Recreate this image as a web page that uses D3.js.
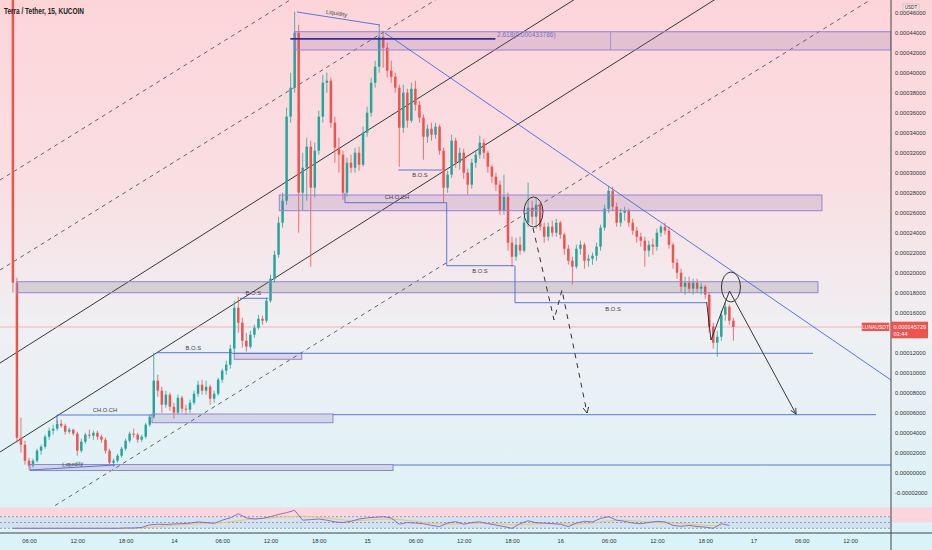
<!DOCTYPE html>
<html>
<head>
<meta charset="utf-8">
<script src="https://cdnjs.cloudflare.com/ajax/libs/d3/7.8.5/d3.min.js"></script>
<style>
  body { margin: 0; background: #fff; overflow: hidden; }
  svg { display: block; font-family: "Liberation Sans", Arial, sans-serif; }
</style>
</head>
<body>
<svg width="932" height="550"></svg>
<script>
// prices are in micro-USDT (1e-6 USDT), times in hours from 13 May 00:00 UTC
const day0 = Date.UTC(2022, 4, 13);
const firstBarHour = 4;     // first 30-minute bar starts at 04:00 on the 13th
const barHours = 0.5;
const firstOpen = 560;
const lastPrice = 145.729;

const closes = [190,35,28,12,7,12,22,26,36,42,44,49,47,41,43,39,22,31,38,37,
  40,36,33,22,10,12,17,24,32,39,38,33,36,48,56,92,82,68,78,66,
  60,75,64,63,70,79,88,82,86,74,79,93,102,108,124,165,150,132,126,138,
  145,154,152,172,194,218,250,272,356,385,440,280,305,326,285,322,356,390,392,350,
  325,318,280,310,305,320,308,340,360,390,406,436,425,402,396,385,345,380,352,384,
  368,355,336,344,338,346,322,285,298,332,310,320,300,288,310,318,330,320,306,296,
  288,262,276,230,216,228,222,250,265,256,268,246,236,246,240,250,238,224,212,206,
  224,228,212,214,217,226,245,264,282,266,250,260,262,250,242,236,232,222,228,226,
  240,246,242,228,210,200,186,190,184,190,184,186,178,146,130,136,158,166,152,145.7];
const highs = [600,195,55,32,15,14,24,28,38,45,48,52,53,49,45,44,41,34,40,43,
  42,42,38,35,24,14,19,26,34,41,44,40,38,50,58,120,98,86,82,80,
  70,78,77,68,73,82,92,93,92,88,82,95,104,112,128,172,176,155,140,142,
  148,158,157,175,198,222,256,280,365,400,461,448,320,335,332,330,362,398,400,395,
  356,335,322,315,318,325,326,346,366,395,412,448,442,430,412,400,388,388,384,390,
  392,372,358,348,350,350,348,325,302,338,335,325,324,304,314,322,337,334,322,308,
  300,292,298,280,236,235,236,256,290,272,274,270,250,250,252,254,252,240,228,216,
  228,232,230,218,220,230,248,268,287,286,270,264,266,264,254,246,240,236,232,234,
  244,248,250,246,230,214,204,196,196,194,194,190,188,180,150,142,162,170,168,155];
const lows = [180,30,20,8,3,5,10,18,24,33,38,42,45,38,39,37,17,20,29,34,
  33,33,30,19,7,6,10,15,22,30,35,30,31,34,46,54,76,60,65,62,
  54,58,60,58,60,68,76,78,78,68,70,77,90,98,104,118,140,125,121,124,
  135,143,148,150,170,190,215,245,268,350,380,240,262,272,206,275,318,350,380,345,
  310,300,273,276,300,300,302,306,336,356,385,400,405,395,390,380,306,340,345,350,
  362,350,313,330,332,334,318,270,280,295,305,303,294,278,284,305,314,314,300,290,
  282,258,258,222,206,212,218,220,246,248,244,242,230,232,236,236,234,218,208,188,
  204,218,204,206,208,212,222,242,260,262,246,246,252,246,238,230,226,206,216,218,
  222,236,238,224,204,194,180,178,180,178,180,178,174,140,124,116,132,152,148,132];

// RSI read hourly from 04:00, its moving average every two hours
const rsiValues = [30,30,30,30,30,30,30,30,30,30,30,30,30,30,31,
  31,33,42,44,43,45,46,48,52,50,47,58,66,80,66,62,64,70,78,84,
  92,58,60,62,58,52,50,54,62,66,68,70,66,44,50,48,46,40,36,48,
  53,44,50,52,46,41,36,30,46,56,49,48,46,44,36,48,54,52,64,70,
  58,54,48,46,50,54,52,40,37,40,36,34,30,46,40];
const rsiMa = [30,30,30,30,30,30,30,30,31,36,41,44,47,49,56,63,66,70,72,68,
  62,56,58,62,60,54,47,44,46,48,46,42,44,46,46,44,48,56,58,54,50,48,44,40,38];
const rsiLevels = [70, 50, 30];

const priceTicks = [-20,0,20,40,60,80,100,120,140,160,180,200,220,240,260,280,300,320,340,360,380,400,420,440,460];
const timeTickHours = [6,12,18,24,30,36,42,48,54,60,66,72,78,84,90,96,102,108];

// drawings, as [hour, price] points
const blackLines = [
  [[2.4, 109.7], [79.4, 502]],
  [[2.4, 20.7], [96.8, 501.7]]
];
const dashedLines = [
  [[2.4, 292.7], [44.6, 503.5]],
  [[2.4, 202.7], [62.0, 500.3]],
  [[8.4, -37], [116.7, 503.7]]
];
const blueLines = [
  [[50.22, 439.7], [113.08, 92.7]],
  [[39.29, 460.7], [49.6, 447.7]],
  [[6.12, 2.7], [16.68, 7.7]],
  [[31.22, 119.4], [103.39, 119.4]],
  [[43.76, 58], [111.22, 58]],
  [[51.22, 7.7], [113.08, 7.7]],
  [[21.9, 120], [31.22, 120]],
  [[32.21, 174.4], [35.73, 174.4]],
  [[51.88, 302.7], [57.27, 302.7]],
  [[45.25, 279.7], [45.25, 270], [57.89, 270]],
  [[57.89, 270], [57.89, 207], [66.25, 207]],
  [[66.37, 207], [66.37, 170], [90.18, 170]],
  [[9.48, 49.7], [9.48, 57.7], [21.28, 57.7]]
];
const fibLine = [[38.47, 433.786], [63.94, 433.786]];
const boxes = [
  {t0: 39.04, t1: 113.08, p0: 441, p1: 422.7, split: 78.25},
  {t0: 37.09, t1: 104.5, p0: 277.7, p1: 262},
  {t0: 4.47, t1: 104.01, p0: 191, p1: 180, grey: true},
  {t0: 31.5, t1: 39.88, p0: 119.4, p1: 113.4},
  {t0: 21.28, t1: 43.76, p0: 58.7, p1: 50},
  {t0: 6.12, t1: 51.22, p0: 8.2, p1: 2.2}
];
const circles = [{t: 68.67, p: 260.7}, {t: 93.2, p: 185.7}];
const dashedArrow = [[68.61, 244.7], [71.22, 152.7], [72.21, 182.7], [75.32, 59.7]];
const solidArrow = [[90.18, 170.7], [90.72, 132.7], [93.02, 181.7], [101.28, 58.7]];
const notes = [
  {text: "Liquidity", t: 44.22, p: 459.4, rot: 9},
  {text: "Liquidity", t: 11.43, p: 8.7, rot: -3},
  {text: "CH.O.CH", t: 15.44, p: 62.7},
  {text: "CH.O.CH", t: 51.71, p: 275.7},
  {text: "B.O.S", t: 26.41, p: 124.4},
  {text: "B.O.S", t: 33.86, p: 179.4},
  {text: "B.O.S", t: 54.57, p: 297.7},
  {text: "B.O.S", t: 62.02, p: 202},
  {text: "B.O.S", t: 78.55, p: 164}
];

const T = h => new Date(day0 + h * 3600000);

const svg = d3.select("svg");
const W = 932, axisX = 891, paneBottom = 507, axisY = 533;

const x = d3.scaleUtc().domain([T(6), T(96)]).range([29, 753.5]);
const y = d3.scaleLinear().domain([0, 440]).range([472.7, 32.7]);
const yr = d3.scaleLinear().domain([30, 70]).range([528.3, 516.7]);
const py = y(lastPrice);

// background
const defs = svg.append("defs");
const grad = defs.append("linearGradient").attr("id", "bg").attr("x1", 0).attr("y1", 0).attr("x2", 0).attr("y2", 1);
[["0%", "#fdd5d9"], ["35%", "#f9dfe3"], ["62%", "#eff0f3"], ["100%", "#daf3f8"]]
  .forEach(s => grad.append("stop").attr("offset", s[0]).attr("stop-color", s[1]));
defs.append("clipPath").attr("id", "pane").append("rect").attr("width", axisX).attr("height", paneBottom);
defs.append("marker").attr("id", "arr").attr("viewBox", "0 0 10 10").attr("refX", 9).attr("refY", 5)
  .attr("markerWidth", 7).attr("markerHeight", 7).attr("orient", "auto-start-reverse")
  .attr("markerUnits", "userSpaceOnUse")
  .append("path").attr("d", "M1,1 L9,5 L1,9").attr("fill", "none").attr("stroke", "#333").attr("stroke-width", 1.3);

svg.append("rect").attr("width", W).attr("height", 550).attr("fill", "#daf3f8");
svg.append("rect").attr("width", W).attr("height", axisY).attr("fill", "url(#bg)");

// rsi pane background
svg.append("rect").attr("x", 0).attr("y", 507.5).attr("width", axisX).attr("height", yr(70) - 507.5).attr("fill", "#fbd7dd");
svg.append("rect").attr("x", axisX).attr("y", 507.5).attr("width", W - axisX).attr("height", 15).attr("fill", "#fbd7dd");
svg.append("rect").attr("x", 0).attr("y", yr(70)).attr("width", axisX).attr("height", yr(30) - yr(70))
  .attr("fill", "rgba(126,87,194,0.1)");
svg.append("g").selectAll("line").data(rsiLevels).join("line")
  .attr("x1", 0).attr("x2", axisX).attr("y1", d => yr(d)).attr("y2", d => yr(d))
  .attr("stroke", "#8a8a98").attr("stroke-width", 0.8).attr("stroke-dasharray", "2,2");

const pane = svg.append("g").attr("clip-path", "url(#pane)");
const line = d3.line().x(d => x(T(d[0]))).y(d => y(d[1]));

// channel lines
pane.append("g").selectAll("path").data(blackLines).join("path")
  .attr("d", line).attr("fill", "none").attr("stroke", "#222").attr("stroke-width", 0.9);
pane.append("g").selectAll("path").data(dashedLines).join("path")
  .attr("d", line).attr("fill", "none").attr("stroke", "#555").attr("stroke-width", 0.9).attr("stroke-dasharray", "4,4");

// last price line
pane.append("line").attr("x1", 0).attr("x2", 862).attr("y1", py).attr("y2", py)
  .attr("stroke", "#f2a3a3").attr("stroke-width", 0.8);

// candles
const bars = closes.map((c, i) => ({
  t: T(firstBarHour + i * barHours),
  o: i === 0 ? firstOpen : closes[i - 1],
  h: highs[i], l: lows[i], c: c
}));
const bw = (x(T(barHours)) - x(T(0))) * 0.62;
const candle = pane.append("g").selectAll("g").data(bars).join("g")
  .attr("stroke", d => d.c >= d.o ? "#26a69a" : "#ef5350")
  .attr("fill", d => d.c >= d.o ? "#26a69a" : "#ef5350");
candle.append("line")
  .attr("x1", d => x(d.t)).attr("x2", d => x(d.t))
  .attr("y1", d => y(d.h)).attr("y2", d => y(d.l)).attr("stroke-width", 0.8);
candle.append("rect")
  .attr("x", d => x(d.t) - bw / 2).attr("width", bw)
  .attr("y", d => y(Math.max(d.o, d.c)))
  .attr("height", d => Math.max(0.8, Math.abs(y(d.o) - y(d.c))))
  .attr("stroke", "none");

// boxes
pane.append("g").selectAll("rect").data(boxes).join("rect")
  .attr("x", d => x(T(d.t0))).attr("width", d => x(T(d.t1)) - x(T(d.t0)))
  .attr("y", d => y(d.p0)).attr("height", d => y(d.p1) - y(d.p0))
  .attr("fill", d => d.grey ? "rgba(105,100,115,0.2)" : "rgba(120,95,165,0.18)")
  .attr("stroke", "#9484d6").attr("stroke-width", 1);
pane.append("g").selectAll("line").data(boxes.filter(d => d.split)).join("line")
  .attr("x1", d => x(T(d.split))).attr("x2", d => x(T(d.split)))
  .attr("y1", d => y(d.p0)).attr("y2", d => y(d.p1))
  .attr("stroke", "#9484d6").attr("stroke-width", 0.8);

// blue drawings
pane.append("g").selectAll("path").data(blueLines).join("path")
  .attr("d", line).attr("fill", "none").attr("stroke", "#4a68e0").attr("stroke-width", 0.9);
pane.append("path").attr("d", line(fibLine)).attr("stroke", "#3a2a9c").attr("stroke-width", 1.6);
pane.append("text").attr("x", x(T(64.14))).attr("y", y(437.7)).attr("dy", "0.35em")
  .attr("font-size", 6.5).attr("fill", "#7b6fc6").text("2.618(0.000433786)");

// black drawings
pane.append("g").selectAll("ellipse").data(circles).join("ellipse")
  .attr("cx", d => x(T(d.t))).attr("cy", d => y(d.p))
  .attr("rx", 9.5).attr("ry", 15)
  .attr("fill", "none").attr("stroke", "#222").attr("stroke-width", 0.9);
pane.append("path").attr("d", line(dashedArrow)).attr("fill", "none")
  .attr("stroke", "#333").attr("stroke-width", 1).attr("stroke-dasharray", "5,5")
  .attr("marker-end", "url(#arr)");
pane.append("path").attr("d", line(solidArrow)).attr("fill", "none")
  .attr("stroke", "#222").attr("stroke-width", 0.9).attr("marker-end", "url(#arr)");

pane.append("g").selectAll("text").data(notes).join("text")
  .attr("transform", d => `translate(${x(T(d.t))},${y(d.p)}) rotate(${d.rot || 0})`)
  .attr("text-anchor", "middle").attr("dy", "0.35em")
  .attr("font-size", 5.8).attr("fill", "#444").text(d => d.text);

// rsi
const rsiLine = d3.line().x(d => x(d[0])).y(d => yr(d[1]));
svg.append("path")
  .attr("d", rsiLine(rsiMa.map((v, k) => [T(firstBarHour + 2 * k), v])))
  .attr("fill", "none").attr("stroke", "#f3c54f").attr("stroke-width", 0.9);
svg.append("path")
  .attr("d", rsiLine(rsiValues.map((v, k) => [T(firstBarHour + k), v])))
  .attr("fill", "none").attr("stroke", "#8360c8").attr("stroke-width", 0.9);

// axes
svg.append("line").attr("x1", 0).attr("x2", W).attr("y1", axisY).attr("y2", axisY).attr("stroke", "#444").attr("stroke-width", 1);
svg.append("line").attr("x1", axisX).attr("x2", axisX).attr("y1", 0).attr("y2", 550).attr("stroke", "#444").attr("stroke-width", 1);

// labels hidden behind the last-price tag are left out, as on the chart
const shownTicks = priceTicks.filter(v => Math.abs(y(v) - (py + 3)) > 10);
const yAxis = svg.append("g").attr("transform", `translate(${axisX},0)`)
  .call(d3.axisRight(y).tickValues(shownTicks).tickSize(0).tickPadding(4)
    .tickFormat(v => (v / 1e6).toFixed(8)));
yAxis.select(".domain").remove();
yAxis.selectAll("text").attr("font-size", 5.8).attr("fill", "#333").attr("font-family", null);

const fmtDay = d3.utcFormat("%-d"), fmtHour = d3.utcFormat("%H:%M");
const xAxis = svg.append("g").attr("transform", `translate(0,${axisY})`)
  .call(d3.axisBottom(x).tickValues(timeTickHours.map(T)).tickSize(0).tickPadding(6)
    .tickFormat(d => d.getUTCHours() === 0 ? fmtDay(d) : fmtHour(d)));
xAxis.select(".domain").remove();
xAxis.selectAll("text").attr("font-size", 5.8).attr("fill", "#333").attr("font-family", null);

// currency tag over the top label
svg.append("rect").attr("x", 903).attr("y", 4).attr("width", 16).attr("height", 7)
  .attr("fill", "#fbe3e6").attr("stroke", "#aaa").attr("stroke-width", 0.5);
svg.append("text").attr("x", 911).attr("y", 7.5).attr("dy", "0.35em").attr("text-anchor", "middle")
  .attr("font-size", 4.6).attr("fill", "#333").text("USDT");

// last price tags
svg.append("rect").attr("x", 861.7).attr("y", py - 4.3).attr("width", 27.6).attr("height", 8.3).attr("fill", "#ef5350");
svg.append("text").attr("x", 875.5).attr("y", py).attr("dy", "0.35em").attr("text-anchor", "middle")
  .attr("font-size", 5).attr("fill", "#fff").text("LUNAUSDT");
svg.append("rect").attr("x", axisX).attr("y", py - 5.3).attr("width", 37).attr("height", 16.6).attr("fill", "#ef5350");
svg.append("text").attr("x", axisX + 2.5).attr("y", py).attr("dy", "0.35em")
  .attr("font-size", 5.6).attr("fill", "#fff").text((lastPrice / 1e6).toFixed(9));
svg.append("text").attr("x", axisX + 2.5).attr("y", py + 7.2).attr("dy", "0.35em")
  .attr("font-size", 5.6).attr("fill", "#fff").text("03:44");

// title
svg.append("text").attr("x", 4).attr("y", 13.5).attr("font-size", 9).attr("font-weight", "bold")
  .attr("fill", "#222").attr("textLength", 80).attr("lengthAdjust", "spacingAndGlyphs")
  .text("Terra / Tether, 15, KUCOIN");
</script>
</body>
</html>
